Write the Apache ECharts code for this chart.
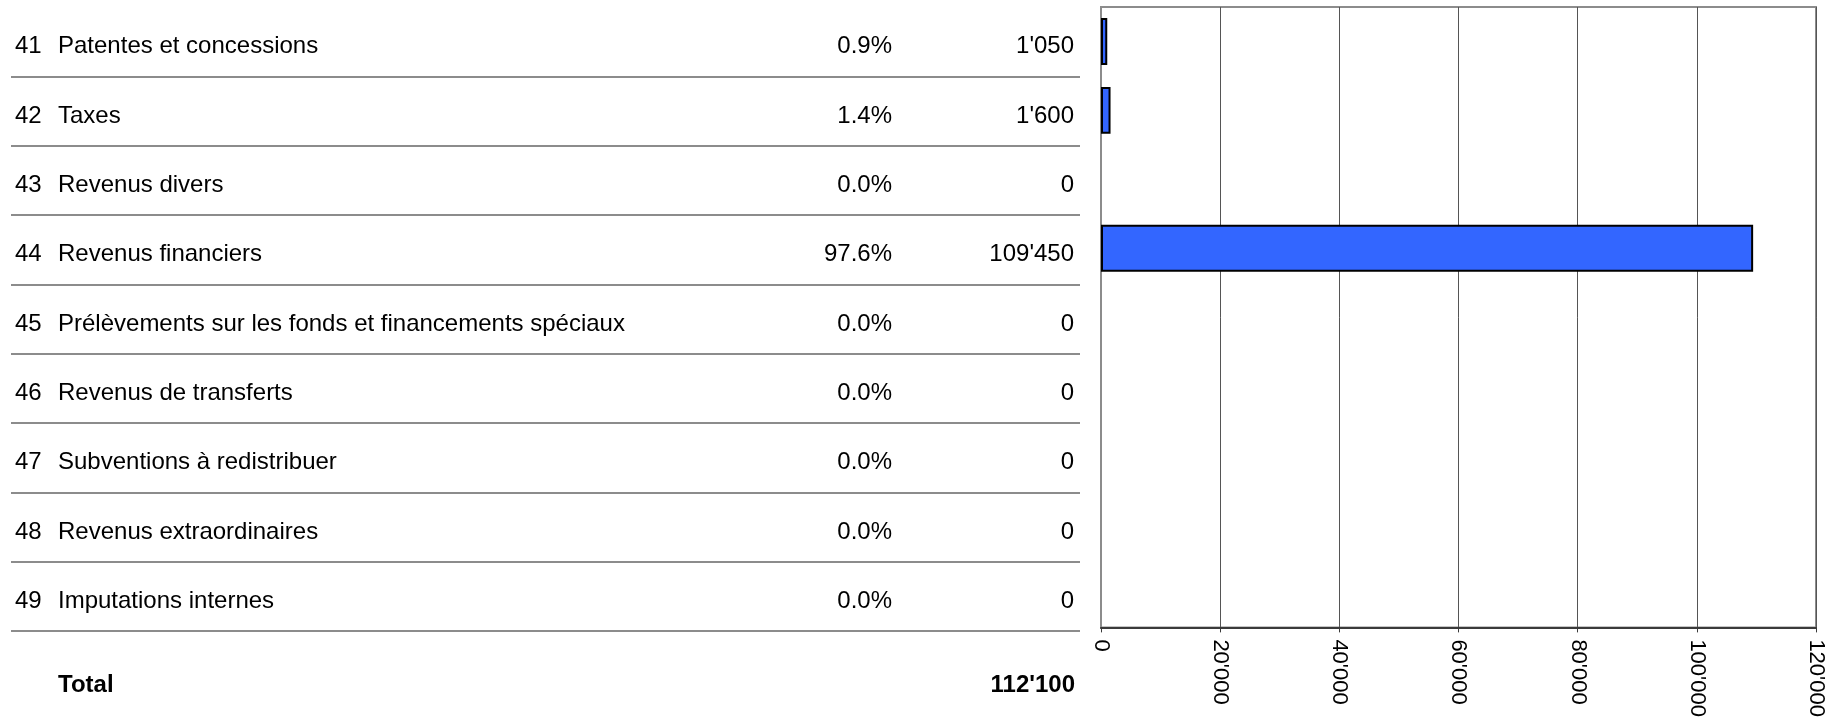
<!DOCTYPE html>
<html><head><meta charset="utf-8">
<script src="https://cdn.jsdelivr.net/npm/echarts@6/dist/echarts.min.js"></script>
<style>html,body{margin:0;padding:0;background:#fff}#c{width:1841px;height:720px}</style>
</head><body><div id="c"></div>
<script>
const codes = ['41','42','43','44','45','46','47','48','49'];
const names = ['Patentes et concessions','Taxes','Revenus divers','Revenus financiers',
  'Prélèvements sur les fonds et financements spéciaux','Revenus de transferts',
  'Subventions à redistribuer','Revenus extraordinaires','Imputations internes'];
const values = [1050, 1600, 0, 109450, 0, 0, 0, 0, 0];
const axisMin = 0, axisMax = 120000, axisStep = 20000;
const totalLabel = 'Total';

const fmt = n => String(Math.round(n)).replace(/\B(?=(\d{3})+(?!\d))/g, "'");
const total = values.reduce((a, b) => a + b, 0);
const pctLabels = values.map(v => (v / total * 100).toFixed(1) + '%');
const valLabels = values.map(fmt);

const FONT = "'Liberation Sans', Arial, sans-serif";
const GL = 1101, GR = 1841 - 1816, GT = 7, GB = 720 - 631;
const band = (720 - GB - GT) / codes.length;
const TEXT_SHIFT = 5;

function colAxis(data, margin, align) {
  return {
    type: 'category', gridIndex: 2, inverse: true, position: 'left', data: data,
    axisLine: {show: false}, axisTick: {show: false}, splitLine: {show: false},
    axisLabel: {show: true, interval: 0, margin: margin, align: align,
      color: '#000', fontSize: 24, fontFamily: FONT}
  };
}

const chart = echarts.init(document.getElementById('c'), null, {renderer: 'canvas'});
chart.setOption({
  animation: false,
  backgroundColor: '#fff',
  title: [
    {text: totalLabel, left: 58, top: 673, padding: 0,
     textStyle: {fontSize: 24, fontWeight: 'bold', color: '#000', fontFamily: FONT, lineHeight: 24}},
    {text: fmt(total), right: 1841 - 1075, top: 673, padding: 0,
     textStyle: {fontSize: 24, fontWeight: 'bold', color: '#000', fontFamily: FONT, lineHeight: 24}}
  ],
  grid: [
    {left: GL, right: GR, top: GT, bottom: GB, show: true, borderColor: '#8c8c8c', borderWidth: 2, containLabel: false},
    {left: 11, right: 1841 - 1080, top: GT + band, bottom: GB, show: false},
    {left: GL, right: GR, top: GT + TEXT_SHIFT, bottom: GB - TEXT_SHIFT, show: false}
  ],
  xAxis: [
    {type: 'value', gridIndex: 0, min: axisMin, max: axisMax, interval: axisStep,
     axisLine: {show: true, lineStyle: {color: '#3a3a3a', width: 2}},
     axisTick: {show: true, length: 5, lineStyle: {color: '#3a3a3a', width: 1}},
     splitLine: {show: true, lineStyle: {color: '#555', width: 1}},
     axisLabel: {rotate: -90, margin: 12, color: '#000', fontSize: 22, fontFamily: FONT, formatter: v => fmt(v)}},
    {type: 'value', gridIndex: 1, show: false, min: 0, max: 1},
    {type: 'value', gridIndex: 2, show: false, min: 0, max: 1}
  ],
  yAxis: [
    {type: 'category', gridIndex: 0, inverse: true, data: codes,
     axisLine: {show: true, lineStyle: {color: '#8c8c8c', width: 2}},
     axisTick: {show: false}, axisLabel: {show: false}, splitLine: {show: false}},
    {type: 'category', gridIndex: 1, inverse: true, data: codes.slice(1),
     axisLine: {show: false}, axisTick: {show: false}, axisLabel: {show: false},
     splitLine: {show: true, lineStyle: {color: '#8c8c8c', width: 2}}},
    colAxis(codes, GL - 15, 'left'),
    colAxis(names, GL - 58, 'left'),
    colAxis(pctLabels, GL - 892, 'right'),
    colAxis(valLabels, GL - 1074, 'right')
  ],
  series: [{
    type: 'bar', xAxisIndex: 0, yAxisIndex: 0, barCategoryGap: '32%',
    data: values.map(v => v === 0 ? {value: v, itemStyle: {borderWidth: 0}} : v),
    itemStyle: {color: '#3366ff', borderColor: '#000', borderWidth: 2}
  }]
});
</script></body></html>
